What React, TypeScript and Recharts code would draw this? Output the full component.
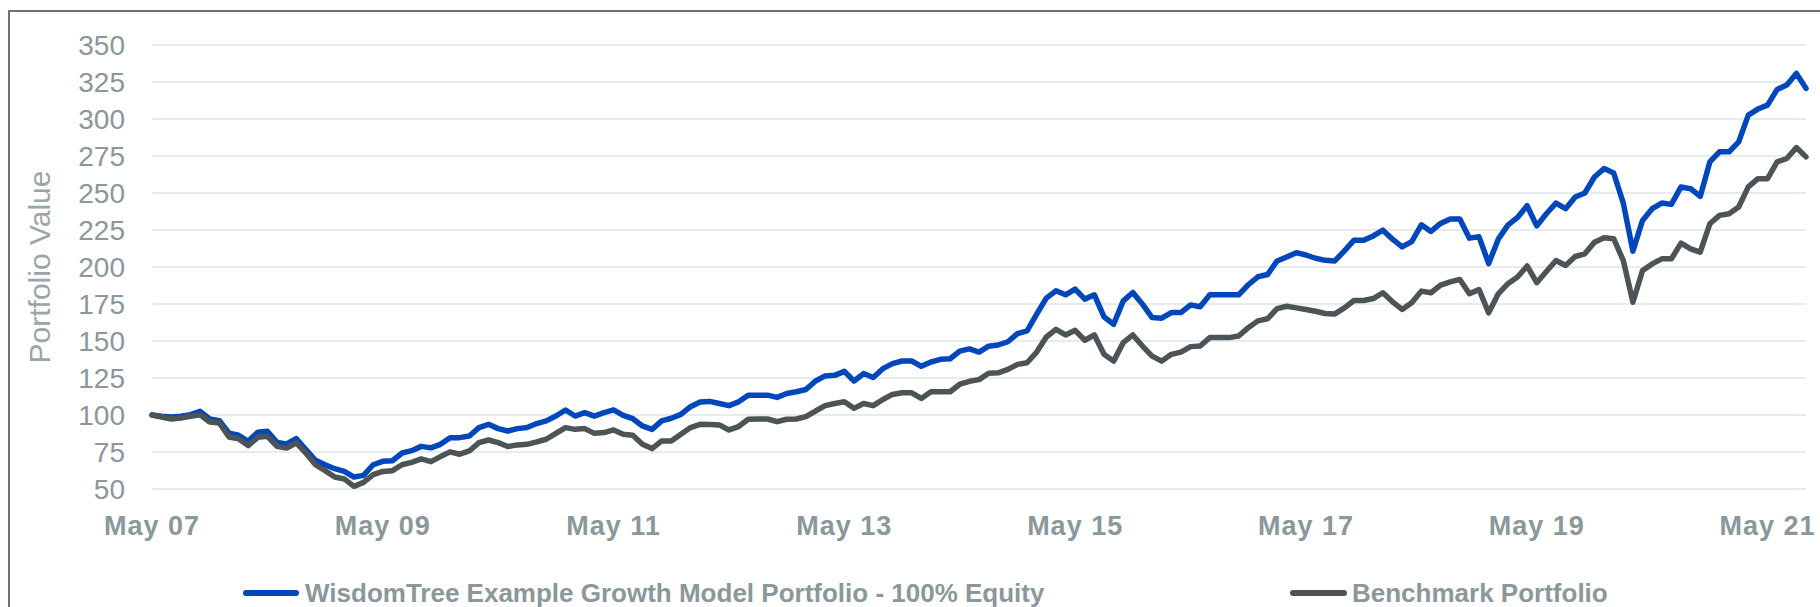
import React from 'react';
import { LineChart, Line, XAxis, YAxis, CartesianGrid, Legend } from 'recharts';

const growthValues: number[] = [
  100, 99.1, 98.6, 99.1, 100.2, 102.5, 97.3, 96.2, 87.8, 86.3,
  82.2, 88.3, 89.0, 81.5, 80.4, 84.0, 76.6, 69.4, 66.4, 63.7,
  61.9, 58.1, 59.2, 66.4, 68.7, 69.1, 74.3, 75.9, 78.8, 77.8,
  80.2, 84.7, 84.7, 85.8, 91.5, 93.7, 90.8, 89.2, 90.8, 91.5,
  94.2, 96.0, 99.3, 103.4, 99.3, 101.6, 99.3, 101.6, 103.4, 99.8,
  97.5, 92.6, 90.3, 96.0, 97.8, 100.4, 105.6, 108.8, 109.2, 107.8,
  106.3, 108.9, 113.4, 113.4, 113.4, 111.9, 114.5, 115.7, 117.2, 123.0,
  126.4, 126.8, 129.5, 123.0, 128.0, 125.3, 131.3, 134.7, 136.5, 136.5,
  132.9, 135.8, 137.6, 138.0, 143.2, 144.7, 142.5, 146.5, 147.3, 149.5,
  155.0, 156.8, 168.1, 179.0, 183.9, 181.2, 185.1, 178.3, 181.2, 166.3,
  161.3, 177.1, 182.8, 174.9, 165.8, 165.4, 169.2, 169.2, 174.4, 173.1,
  181.2, 181.2, 181.2, 181.2, 188.0, 193.4, 194.9, 204.1, 206.8, 209.7,
  208.1, 205.9, 204.5, 204.1, 210.9, 218.1, 218.1, 221.0, 224.9, 218.8,
  213.6, 217.2, 228.5, 224.0, 229.4, 232.4, 232.4, 219.5, 220.4, 202.3,
  218.8, 228.3, 233.5, 241.4, 227.8, 236.0, 243.2, 239.4, 247.3, 250.0,
  260.8, 266.5, 263.5, 243.2, 210.7, 231.5, 239.4, 243.2, 242.3, 254.1,
  252.9, 247.7, 271.0, 277.8, 277.8, 284.5, 302.6, 306.7, 309.4, 320.0,
  322.9, 330.8, 320.7,
];

const benchmarkValues: number[] = [
  100, 98.6, 97.3, 98.0, 99.1, 100.2, 95.3, 94.6, 85.1, 84.0,
  79.3, 84.9, 85.6, 78.8, 77.7, 81.1, 74.3, 66.4, 62.4, 58.1,
  56.8, 51.8, 54.5, 59.7, 61.9, 62.4, 66.4, 68.0, 70.3, 68.5,
  71.9, 75.1, 73.5, 75.7, 81.3, 83.1, 81.3, 78.7, 79.8, 80.2,
  81.8, 83.6, 87.6, 91.5, 90.3, 90.8, 87.6, 88.1, 89.9, 87.0,
  86.3, 80.2, 77.3, 82.5, 82.5, 87.0, 91.5, 93.7, 93.5, 93.3,
  89.9, 92.2, 97.1, 97.3, 97.3, 95.5, 97.1, 97.3, 98.9, 102.7,
  106.3, 107.8, 108.9, 104.5, 107.8, 106.3, 110.5, 113.9, 115.0, 115.0,
  111.2, 115.7, 115.7, 115.7, 120.8, 122.8, 123.9, 128.2, 128.5, 130.8,
  134.2, 135.3, 142.5, 152.7, 157.9, 154.1, 157.2, 150.5, 154.1, 141.0,
  136.4, 148.9, 154.1, 146.6, 139.8, 136.4, 141.0, 142.5, 146.2, 146.6,
  152.3, 152.3, 152.3, 153.4, 159.0, 163.6, 165.0, 171.9, 173.5, 172.4,
  171.3, 170.1, 168.6, 168.3, 172.4, 177.4, 177.4, 178.7, 182.6, 176.5,
  171.3, 175.8, 183.7, 182.6, 187.8, 190.0, 191.6, 181.9, 184.8, 169.0,
  181.9, 188.7, 193.2, 200.7, 189.4, 197.0, 204.4, 201.0, 207.1, 208.9,
  216.8, 219.8, 219.1, 204.4, 176.2, 197.6, 202.1, 205.5, 205.5, 216.1,
  212.3, 210.0, 229.2, 234.9, 236.0, 240.5, 254.1, 259.7, 259.7, 271.0,
  273.3, 280.7, 274.4,
];

const tickLabels: string[] = ['May 07', 'May 09', 'May 11', 'May 13', 'May 15', 'May 17', 'May 19', 'May 21'];
const tickIndexes: number[] = [0, 24, 48, 72, 96, 120, 144, 168];
const yTicks: number[] = [50, 75, 100, 125, 150, 175, 200, 225, 250, 275, 300, 325, 350];

const seriesNames = {
  growth: 'WisdomTree Example Growth Model Portfolio - 100% Equity',
  benchmark: 'Benchmark Portfolio',
};

const BLUE = '#0047BB';
const DARK = '#4D5457';
const TEXT = '#8A979B';
const FONT = '"Liberation Sans", Arial, sans-serif';

const data = growthValues.map((g, i) => ({ idx: i, growth: g, benchmark: benchmarkValues[i] }));

const fmtTick = (v: number) => {
  const k = tickIndexes.indexOf(v);
  return k >= 0 ? tickLabels[k] : '';
};

const YLabel = (props: any) => {
  const vb = props.viewBox || { x: 0, y: 0, width: 0, height: 0 };
  const cx = vb.x + 39;
  const cy = vb.y + vb.height / 2;
  return (
    <text
      x={cx}
      y={cy}
      transform={`rotate(-90, ${cx}, ${cy})`}
      textAnchor="middle"
      dominantBaseline="central"
      fill="#9AA5A9"
      fontSize={30}
      fontFamily={FONT}
    >
      Portfolio Value
    </text>
  );
};

const LegendContent = () => (
  <div style={{ position: 'relative', width: 1820, height: 0, fontFamily: FONT }}>
    <div style={{ position: 'absolute', left: 243, top: 0, display: 'flex', alignItems: 'center', whiteSpace: 'nowrap' }}>
      <span style={{ display: 'inline-block', width: 56, height: 6, borderRadius: 3, background: BLUE, marginRight: 6 }} />
      <span style={{ fontSize: 26, fontWeight: 700, color: TEXT, lineHeight: '30px' }}>{seriesNames.growth}</span>
    </div>
    <div style={{ position: 'absolute', left: 1290, top: 0, display: 'flex', alignItems: 'center', whiteSpace: 'nowrap' }}>
      <span style={{ display: 'inline-block', width: 57, height: 6, borderRadius: 3, background: DARK, marginRight: 5 }} />
      <span style={{ fontSize: 26, fontWeight: 700, color: TEXT, lineHeight: '30px' }}>{seriesNames.benchmark}</span>
    </div>
  </div>
);

export default function App() {
  return (
    <div style={{ position: 'absolute', left: 0, top: 0, width: 1820, height: 607, overflow: 'hidden', background: '#fff' }}>
      <div
        style={{
          position: 'absolute',
          left: 8,
          top: 10,
          width: 1900,
          height: 700,
          borderLeft: '2px solid #6E7274',
          borderTop: '2px solid #6E7274',
        }}
      />
      <div style={{ position: 'absolute', left: 0, top: 0 }}>
        <LineChart width={1820} height={607} data={data} margin={{ top: 45, right: 14, bottom: 58, left: 0 }}>
          <CartesianGrid vertical={false} stroke="#DFE4E4" strokeWidth={1.5} />
          <XAxis
            dataKey="idx"
            type="number"
            domain={[0, growthValues.length - 1]}
            ticks={tickIndexes}
            tickFormatter={fmtTick}
            interval={0}
            axisLine={false}
            tickLine={false}
            tickSize={0}
            tickMargin={27}
            height={60}
            tick={{ fill: TEXT, fontSize: 27, fontWeight: 700, fontFamily: FONT, letterSpacing: 1 }}
          />
          <YAxis
            domain={[50, 350]}
            ticks={yTicks}
            interval={0}
            axisLine={false}
            tickLine={false}
            tickSize={0}
            tickMargin={27}
            width={152}
            tick={{ fill: TEXT, fontSize: 28, fontFamily: FONT }}
            label={<YLabel />}
          />
          <Legend
            verticalAlign="bottom"
            content={<LegendContent />}
            wrapperStyle={{ position: 'absolute', left: 0, top: 578, width: 1820, height: 0 }}
          />
          <Line
            type="linear"
            dataKey="growth"
            name={seriesNames.growth}
            stroke={BLUE}
            strokeWidth={5.5}
            dot={false}
            strokeLinejoin="round"
            strokeLinecap="round"
            isAnimationActive={false}
          />
          <Line
            type="linear"
            dataKey="benchmark"
            name={seriesNames.benchmark}
            stroke={DARK}
            strokeWidth={5.5}
            dot={false}
            strokeLinejoin="round"
            strokeLinecap="round"
            isAnimationActive={false}
          />
        </LineChart>
      </div>
    </div>
  );
}
